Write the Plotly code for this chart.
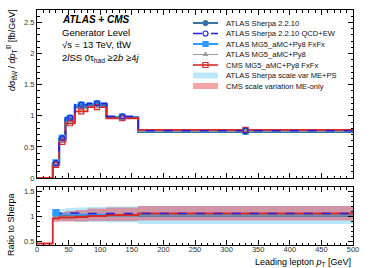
import plotly.graph_objects as go

# ---------------- data ----------------
edges = [0, 25, 35, 45, 60, 80, 110, 160, 500]
centers = [30, 40, 52.5, 70, 95, 135, 330]

sherpa = [0.23, 0.62, 0.93, 1.14, 1.17, 0.97, 0.74]
sherpa_ew = [0.24, 0.64, 0.97, 1.18, 1.20, 0.99, 0.76]
mg5_fxfx = [0.245, 0.64, 0.96, 1.17, 1.19, 0.98, 0.755]
mg5_py8 = [0.225, 0.60, 0.91, 1.12, 1.15, 0.96, 0.75]
cms_fxfx = [0.21, 0.58, 0.88, 1.07, 1.14, 0.96, 0.775]

r_sherpa = [1.0, 1.0, 1.0, 1.0, 1.0, 1.0, 1.0]
r_sherpa_ew = [1.05, 1.05, 1.06, 1.06, 1.05, 1.05, 1.05]
r_mg5_fxfx = [1.07, 1.04, 1.04, 1.03, 1.03, 1.02, 1.02]
r_mg5_py8 = [0.98, 0.98, 0.99, 0.99, 1.0, 1.0, 1.02]
r_cms = [0.95, 0.97, 0.97, 0.98, 1.0, 1.02, 1.05]
r_cms_underflow = 0.45

sherpa_band_lo = [0.93, 0.90, 0.90, 0.88, 0.88, 0.87, 0.84]
sherpa_band_hi = [1.12, 1.14, 1.16, 1.17, 1.18, 1.19, 1.20]
cms_band_lo = [0.88, 0.89, 0.89, 0.89, 0.90, 0.90, 0.91]
cms_band_hi = [1.05, 1.08, 1.10, 1.12, 1.15, 1.17, 1.20]

legend_labels = [
    "ATLAS Sherpa 2.2.10",
    "ATLAS Sherpa 2.2.10 QCD+EW",
    "ATLAS MG5_aMC+Py8 FxFx",
    "ATLAS MG5_aMC+Py8",
    "CMS MG5_aMC+Py8 FxFx",
    "ATLAS Sherpa scale var ME+PS",
    "CMS scale variation ME-only",
]

# ---------------- styles ----------------
C_SH = "#3a75a8"
C_EW = "#2222dd"
C_FX = "#2d9bff"
C_PY = "#9c9c9c"
C_CMS = "#d82828"
C_SHB = "#b9e6fa"
C_CMSB = "rgba(225,80,95,0.55)"
FONT = "Liberation Sans, Arial, sans-serif"

fig = go.Figure()


def step(vals, first=None):
    xs = list(edges[1:])
    ys = list(vals) + [vals[-1]]
    if first is not None:
        xs = [edges[0]] + xs
        ys = [first] + ys
    return xs, ys


def add_hist(vals, color, width, dash, xa, ya, first=None):
    xs, ys = step(vals, first=first)
    fig.add_trace(go.Scatter(x=xs, y=ys, mode="lines", line_shape="hv",
                             line=dict(color=color, width=width, dash=dash),
                             xaxis=xa, yaxis=ya, showlegend=False, hoverinfo="skip"))


def add_markers(vals, color, symbol, size, xa, ya, only_first=False):
    xs = centers[:1] if only_first else centers
    ys = vals[:1] if only_first else vals
    fig.add_trace(go.Scatter(x=xs, y=ys, mode="markers",
                             marker=dict(color=color, symbol=symbol, size=size,
                                         line=dict(color=color, width=1.2)),
                             xaxis=xa, yaxis=ya, showlegend=False, hoverinfo="skip"))


def add_band(lo, hi, color, xa, ya):
    xs, yh = step(hi)
    _, yl = step(lo)
    fig.add_trace(go.Scatter(x=xs, y=yh, mode="lines", line_shape="hv",
                             line=dict(width=0, color=color), xaxis=xa, yaxis=ya,
                             showlegend=False, hoverinfo="skip"))
    fig.add_trace(go.Scatter(x=xs, y=yl, mode="lines", line_shape="hv",
                             line=dict(width=0, color=color), fill="tonexty",
                             fillcolor=color, xaxis=xa, yaxis=ya,
                             showlegend=False, hoverinfo="skip"))


# main panel
for vals, col, w, d, first in [
    (mg5_fxfx, C_FX, 2.2, "solid", None),
    (sherpa, C_SH, 2.2, "solid", 0),
    (mg5_py8, C_PY, 1.0, "solid", None),
    (cms_fxfx, C_CMS, 1.8, "solid", 0),
    (sherpa_ew, C_EW, 1.6, "dash", None),
]:
    add_hist(vals, col, w, d, "x", "y", first=first)
add_markers(mg5_fxfx, C_FX, "square", 6, "x", "y")
add_markers(sherpa, C_SH, "circle", 5, "x", "y")
add_markers(mg5_py8, C_PY, "triangle-up", 4, "x", "y")
add_markers(cms_fxfx, C_CMS, "square-open", 5, "x", "y")
add_markers(sherpa_ew, C_EW, "circle-open", 5, "x", "y")

# ratio panel
add_band(sherpa_band_lo, sherpa_band_hi, C_SHB, "x2", "y2")
add_band(cms_band_lo, cms_band_hi, C_CMSB, "x2", "y2")
for vals, col, w, d, first in [
    (r_mg5_fxfx, C_FX, 1.6, "solid", None),
    (r_sherpa, C_SH, 1.6, "solid", None),
    (r_mg5_py8, C_PY, 1.0, "solid", None),
    (r_cms, C_CMS, 1.8, "solid", r_cms_underflow),
    (r_sherpa_ew, C_EW, 1.4, "dash", None),
]:
    add_hist(vals, col, w, d, "x2", "y2", first=first)
add_markers(r_mg5_fxfx, C_FX, "square", 6, "x2", "y2", only_first=True)

# ---------------- manual legend (pixel-mapped overlay axes) ----------------
leg_y0, leg_dy = 23, 10.5
sym_x0, sym_x1, txt_x = 193, 218, 224
line_styles = [
    (C_SH, 2.0, "solid", "circle", 5),
    (C_EW, 1.3, "dash", "circle-open", 5),
    (C_FX, 2.0, "solid", "square", 5),
    (C_PY, 1.0, "solid", "triangle-up", 4),
    (C_CMS, 1.6, "solid", "square-open", 5),
]
for i, (col, w, d, sym, sz) in enumerate(line_styles):
    yy = leg_y0 + i * leg_dy
    fig.add_trace(go.Scatter(x=[sym_x0, sym_x1], y=[yy, yy], mode="lines",
                             line=dict(color=col, width=w, dash=d),
                             xaxis="x3", yaxis="y3", showlegend=False, hoverinfo="skip"))
    fig.add_trace(go.Scatter(x=[(sym_x0 + sym_x1) / 2], y=[yy], mode="markers",
                             marker=dict(color=col, symbol=sym, size=sz,
                                         line=dict(color=col, width=1.2)),
                             xaxis="x3", yaxis="y3", showlegend=False, hoverinfo="skip"))
for j, col in enumerate(["#bde8fb", "#f6a5a5"]):
    yy = leg_y0 + (5 + j) * leg_dy
    fig.add_trace(go.Scatter(x=[sym_x0, sym_x1, sym_x1, sym_x0, sym_x0],
                             y=[yy - 3, yy - 3, yy + 3, yy + 3, yy - 3],
                             mode="lines", fill="toself", fillcolor=col,
                             line=dict(width=0, color=col),
                             xaxis="x3", yaxis="y3", showlegend=False, hoverinfo="skip"))

annotations = []
for i, lab in enumerate(legend_labels):
    annotations.append(dict(x=txt_x, y=leg_y0 + i * leg_dy, xref="x3", yref="y3",
                            text=lab, showarrow=False, xanchor="left", yanchor="middle",
                            font=dict(size=7.6, color="#111", family=FONT)))

W, H = 374, 268
L, R, T, B = 37, 21, 10, 23
pw, ph = W - L - R, H - T - B


def px(xp):
    return (xp - L) / pw


def py(yp):
    return (H - B - yp) / ph


annotations += [
    dict(x=px(60), y=py(20), xref="paper", yref="paper", text="<b><i>ATLAS + CMS</i></b>",
         showarrow=False, xanchor="left", yanchor="middle", font=dict(size=10, color="black", family=FONT)),
    dict(x=px(60), y=py(32.5), xref="paper", yref="paper", text="Generator Level",
         showarrow=False, xanchor="left", yanchor="middle", font=dict(size=9.5, color="black", family=FONT)),
    dict(x=px(60), y=py(44.5), xref="paper", yref="paper", text="√s = 13 TeV, tt̄W",
         showarrow=False, xanchor="left", yanchor="middle", font=dict(size=9.5, color="black", family=FONT)),
    dict(x=px(60), y=py(57.5), xref="paper", yref="paper",
         text="2<i>l</i>SS 0τ<sub>had</sub> ≥2<i>b</i> ≥4<i>j</i>",
         showarrow=False, xanchor="left", yanchor="middle", font=dict(size=9.5, color="black", family=FONT)),
    dict(x=px(353), y=py(262), xref="paper", yref="paper",
         text="Leading lepton <i>p</i><sub>T</sub> [GeV]",
         showarrow=False, xanchor="right", yanchor="middle", font=dict(size=9, color="black", family=FONT)),
    dict(x=px(11), y=py(50), xref="paper", yref="paper", textangle=-90,
         text="<i>d</i>σ<sub>tt̄W</sub> / <i>dp</i><sub>T</sub><sup>l0</sup> [fb/GeV]",
         showarrow=False, xanchor="center", yanchor="middle", font=dict(size=9, color="black", family=FONT)),
    dict(x=px(11), y=py(225), xref="paper", yref="paper", textangle=-90,
         text="Ratio to Sherpa",
         showarrow=False, xanchor="center", yanchor="middle", font=dict(size=9, color="black", family=FONT)),
]

axis_common = dict(showline=True, linecolor="black", linewidth=1, mirror="allticks",
                   ticks="inside", ticklen=5, tickcolor="black", tickwidth=1,
                   showgrid=False, zeroline=False,
                   tickfont=dict(size=7.5, color="#333", family=FONT))

fig.update_layout(
    width=W, height=H,
    margin=dict(l=L, r=R, t=T, b=B),
    paper_bgcolor="white", plot_bgcolor="rgba(0,0,0,0)",
    showlegend=False,
    xaxis=dict(domain=[0, 1], range=[0, 500], anchor="y", showticklabels=False,
               dtick=50, minor=dict(dtick=10, ticks="inside", ticklen=2.5, tickcolor="black"),
               **axis_common),
    yaxis=dict(domain=[py(178), 1], range=[0, 2.7], anchor="x", dtick=0.5,
               minor=dict(dtick=0.1, ticks="inside", ticklen=2.5, tickcolor="black"),
               **axis_common),
    xaxis2=dict(domain=[0, 1], range=[0, 500], anchor="y2", dtick=50, ticklabelstandoff=-3,
                minor=dict(dtick=10, ticks="inside", ticklen=2.5, tickcolor="black"),
                **axis_common),
    yaxis2=dict(domain=[0, py(187)], range=[0.42, 1.58], anchor="x2",
                tickvals=[0.5, 1.0, 1.5], ticktext=["0.5", "1", "1.5"],
                minor=dict(dtick=0.1, ticks="inside", ticklen=2.5, tickcolor="black"),
                **axis_common),
    xaxis3=dict(domain=[0, 1], range=[L, W - R], anchor="y3", visible=False, fixedrange=True),
    yaxis3=dict(domain=[0, 1], range=[H - B, T], anchor="x3", visible=False, fixedrange=True),
    annotations=annotations,
)

fig.write_html("out.html", config={"displayModeBar": False},
               post_script="document.body.style.margin='0';document.body.style.overflow='hidden';")
